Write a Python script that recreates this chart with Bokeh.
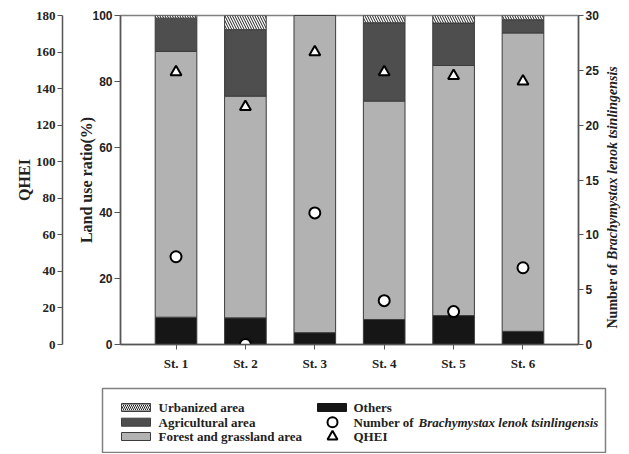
import numpy as np
from bokeh.plotting import figure
from bokeh.models import Range1d, LinearAxis, FixedTicker
from bokeh.layouts import row
from bokeh.embed import file_html
from bokeh.resources import INLINE
from bokeh.core.properties import value

# ---------------- data ----------------
stations = ["St. 1", "St. 2", "St. 3", "St. 4", "St. 5", "St. 6"]
others = [8.3, 8.1, 3.6, 7.6, 8.8, 4.0]
forest = [80.8, 67.4, 96.4, 66.4, 76.0, 90.7]
agricultural = [10.1, 20.2, 0.0, 23.8, 12.9, 4.0]
urbanized = [0.8, 4.3, 0.0, 2.2, 2.3, 1.3]
qhei = [149, 130, 160, 149, 147, 144]
fish_number = [8, 0, 12, 4, 3, 7]

land_ticks = [0, 20, 40, 60, 80, 100]
qhei_ticks = [0, 20, 40, 60, 80, 100, 120, 140, 160, 180]
fish_ticks = [0, 5, 10, 15, 20, 25, 30]

legend_col1 = ["Urbanized area", "Agricultural area", "Forest and grassland area"]
legend_col2 = ["Others", "Number of", "Brachymystax lenok tsinlingensis", "QHEI"]
right_title = ["Number of", "Brachymystax lenok tsinlingensis"]

SERIF = value("Liberation Serif")
W = 625
H_MAIN = 378
W_T = 23
W_MAIN = W - W_T

x = np.arange(1, len(stations) + 1)
o = np.array(others)
f = np.array(forest)
a = np.array(agricultural)
u = np.array(urbanized)

p = figure(width=W_MAIN, height=H_MAIN, x_range=Range1d(0.2, 6.8), y_range=Range1d(0, 100),
           output_backend="svg", toolbar_location=None,
           min_border_left=120, min_border_right=24, min_border_top=15, min_border_bottom=34)
p.extra_y_ranges = {"qhei": Range1d(0, 180), "num": Range1d(0, 30)}
p.grid.visible = False
p.outline_line_color = "#808080"
p.outline_line_width = 1.5

bar_line = dict(line_color="#3c3c3c", line_width=1)
p.vbar(x=x, width=0.6, bottom=0, top=o, fill_color="#161616", **bar_line)
p.vbar(x=x, width=0.6, bottom=o, top=o + f, fill_color="#b2b2b2", **bar_line)
p.vbar(x=x, width=0.6, bottom=o + f, top=o + f + a, fill_color="#4e4e4e", **bar_line)
p.vbar(x=x, width=0.6, bottom=o + f + a, top=o + f + a + u, fill_color="white",
       hatch_pattern="\\", hatch_color="#222222", hatch_scale=5, hatch_weight=1, **bar_line)

p.scatter(x=x, y=fish_number, y_range_name="num", marker="circle", size=11,
          fill_color="white", line_color="black", line_width=2)
p.scatter(x=x, y=qhei, y_range_name="qhei", marker="triangle", size=11,
          fill_color="white", line_color="black", line_width=2)

axis_col = "#555555"


def style_axis(ax, font, size):
    ax.major_label_text_font = font
    ax.major_label_text_font_style = "bold"
    ax.major_label_text_font_size = size
    ax.major_label_text_color = "#222222"
    ax.major_tick_in = 0
    ax.minor_tick_line_color = None
    ax.axis_line_color = axis_col
    ax.axis_line_width = 1.5
    ax.major_tick_line_color = axis_col
    ax.axis_label_text_font = "Liberation Serif"
    ax.axis_label_text_font_style = "bold"
    ax.axis_label_text_font_size = "16px"
    ax.axis_label_text_color = "#222222"


# x axis
xa = p.xaxis[0]
xa.ticker = FixedTicker(ticks=list(x))
xa.major_label_overrides = {int(i): s for i, s in zip(x, stations)}
style_axis(xa, "Liberation Serif", "13px")
xa.major_tick_out = 5
xa.major_label_standoff = 6

# inner left axis (land use)
ya = p.yaxis[0]
ya.ticker = FixedTicker(ticks=land_ticks)
ya.axis_label = "Land use ratio(%)"
style_axis(ya, "Liberation Sans", "12px")
ya.axis_label_standoff = -6
ya.major_label_standoff = 2
ya.major_tick_out = 6

# spacer axis (invisible, only reserves room between the two left axes)
sp = LinearAxis(ticker=FixedTicker(ticks=[50]), major_label_overrides={50: ""},
                major_tick_out=13, major_tick_in=0, major_label_standoff=0,
                major_tick_line_color=None, axis_line_color=None,
                minor_tick_line_color=None)
p.add_layout(sp, "left")

# outer left axis (QHEI)
qa = LinearAxis(y_range_name="qhei", ticker=FixedTicker(ticks=qhei_ticks), axis_label="QHEI")
style_axis(qa, "Liberation Serif", "13px")
qa.axis_label_standoff = 0
qa.major_label_standoff = 2
qa.major_tick_out = 5
p.add_layout(qa, "left")

# right axis (fish number)
ra = LinearAxis(y_range_name="num", ticker=FixedTicker(ticks=fish_ticks))
style_axis(ra, "Liberation Sans", "12px")
ra.major_label_standoff = 2
ra.major_tick_out = 5
p.add_layout(ra, "right")

# narrow strip holding the right-axis title (mixed roman / italic)
t = figure(width=W_T, height=H_MAIN, x_range=Range1d(0, W_T), y_range=Range1d(0, 100),
           output_backend="svg", toolbar_location=None, x_axis_type=None, y_axis_type=None,
           min_border_left=0, min_border_right=0, min_border_top=15, min_border_bottom=34)
t.grid.visible = False
t.outline_line_color = None
t.text(x=[10], y=[24.6], text=[right_title[0]], angle=np.pi / 2, text_align="right",
       text_baseline="middle", text_font=SERIF, text_font_style="bold",
       text_font_size="14px", text_color="#222222")
t.text(x=[10], y=[25.7], text=[right_title[1]], angle=np.pi / 2, text_align="left",
       text_baseline="middle", text_font=SERIF, text_font_style="bold italic",
       text_font_size="14px", text_color="#222222")

# ---------------- legend panel ----------------
L_H = 75
lg = figure(width=W, height=L_H, x_range=Range1d(0, W), y_range=Range1d(L_H, 0),
            output_backend="svg", toolbar_location=None,
            x_axis_type=None, y_axis_type=None,
            min_border_left=0, min_border_right=0, min_border_top=0, min_border_bottom=0)
lg.grid.visible = False
lg.outline_line_color = None

lg.quad(left=102, right=605, top=10, bottom=74, fill_color=None, line_color="#808080", line_width=1.5)

rows = [29, 43.7, 58]
sw_l, sw_r, sw_h = 121, 150, 4
lg.quad(left=sw_l, right=sw_r, top=rows[0] - sw_h, bottom=rows[0] + sw_h, fill_color="white",
        line_color="#3c3c3c", hatch_pattern="\\", hatch_color="#222222", hatch_scale=4, hatch_weight=1)
lg.quad(left=sw_l, right=sw_r, top=rows[1] - sw_h, bottom=rows[1] + sw_h, fill_color="#4e4e4e",
        line_color="#3c3c3c")
lg.quad(left=sw_l, right=sw_r, top=rows[2] - sw_h, bottom=rows[2] + sw_h, fill_color="#b2b2b2",
        line_color="#3c3c3c")
lg.quad(left=317, right=346, top=rows[0] - sw_h, bottom=rows[0] + sw_h, fill_color="#161616",
        line_color="#161616")
lg.scatter(x=[332], y=[rows[1]], marker="circle", size=10, fill_color="white",
           line_color="black", line_width=2)
lg.scatter(x=[332], y=[rows[2]], marker="triangle", size=10, fill_color="white",
           line_color="black", line_width=2)

txt = dict(text_font=SERIF, text_font_style="bold", text_font_size="13px",
           text_baseline="middle", text_color="#222222")
lg.text(x=[158, 158, 158], y=rows, text=legend_col1, **txt)
lg.text(x=[353, 353, 353], y=[rows[0], rows[1], rows[2]],
        text=[legend_col2[0], legend_col2[1], legend_col2[3]], **txt)
lg.text(x=[418], y=[rows[1]], text=[legend_col2[2]], text_font=SERIF,
        text_font_style="bold italic", text_font_size="13px", text_baseline="middle",
        text_color="#222222")

top_row = row(p, t, spacing=0)
open("out.html", "w").write(file_html([top_row, lg], INLINE))
